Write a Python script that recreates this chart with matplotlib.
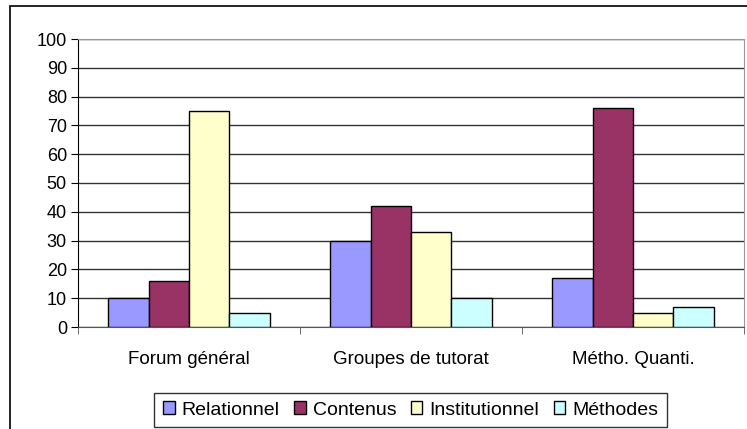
import numpy as np
import matplotlib.pyplot as plt
from matplotlib.patches import Rectangle

plt.rcParams['font.family'] = ['Liberation Sans', 'DejaVu Sans']

categories = ['Forum général', 'Groupes de tutorat', 'Métho. Quanti.']
series_names = ['Relationnel', 'Contenus', 'Institutionnel', 'Méthodes']
relationnel = [10, 30, 17]
contenus = [16, 42, 76]
institutionnel = [75, 33, 5]
methodes = [5, 10, 7]
colors = ['#9999FF', '#993366', '#FFFFCC', '#CCFFFF']

fig = plt.figure(figsize=(7.47, 4.29), dpi=100)
ax = fig.add_axes([78 / 747, 1 - 327 / 429, (744 - 78) / 747, (327 - 39) / 429])

# outer chart frame (Excel style)
fig.patches.append(Rectangle((10 / 747, -0.05), 1.05, 1 - 6 / 429 + 0.05,
                             transform=fig.transFigure, fill=False,
                             edgecolor='black', linewidth=1.2))

x = np.arange(len(categories))
w = 1 / 5.5
data = [relationnel, contenus, institutionnel, methodes]
for i, (vals, name, c) in enumerate(zip(data, series_names, colors)):
    ax.bar(x + (i - 1.5) * w, vals, width=w, color=c, edgecolor='black',
           linewidth=1, label=name, zorder=3)

ax.set_xlim(-0.5, 2.5)
ax.set_ylim(0, 100)
ax.set_yticks(range(0, 101, 10))
ax.set_xticks(x)
ax.set_xticklabels(categories, fontsize=13.5)
ax.set_xticks([-0.5, 0.5, 1.5, 2.5], minor=True)
ax.tick_params(axis='x', which='major', length=0, pad=17)
ax.tick_params(axis='x', which='minor', length=5, direction='out', color='#555555')
ax.tick_params(axis='y', length=5, direction='out', labelsize=13, pad=3)
ax.yaxis.grid(True, color='#333333', linewidth=1, zorder=0)
ax.set_axisbelow(True)

for s in ['top', 'right']:
    ax.spines[s].set_color('#999999')
ax.spines['left'].set_color('black')
ax.spines['bottom'].set_color('#555555')

leg = fig.legend(loc='center', bbox_to_anchor=(410.5 / 747, 1 - 410 / 429),
                 ncol=4, fontsize=14, frameon=True, fancybox=False,
                 handlelength=0.6, handleheight=0.6, handletextpad=0.35,
                 columnspacing=0.75, borderpad=0.45, borderaxespad=0)
leg.get_frame().set_edgecolor('black')
leg.get_frame().set_linewidth(1)

fig.savefig('out.png', dpi=100)
